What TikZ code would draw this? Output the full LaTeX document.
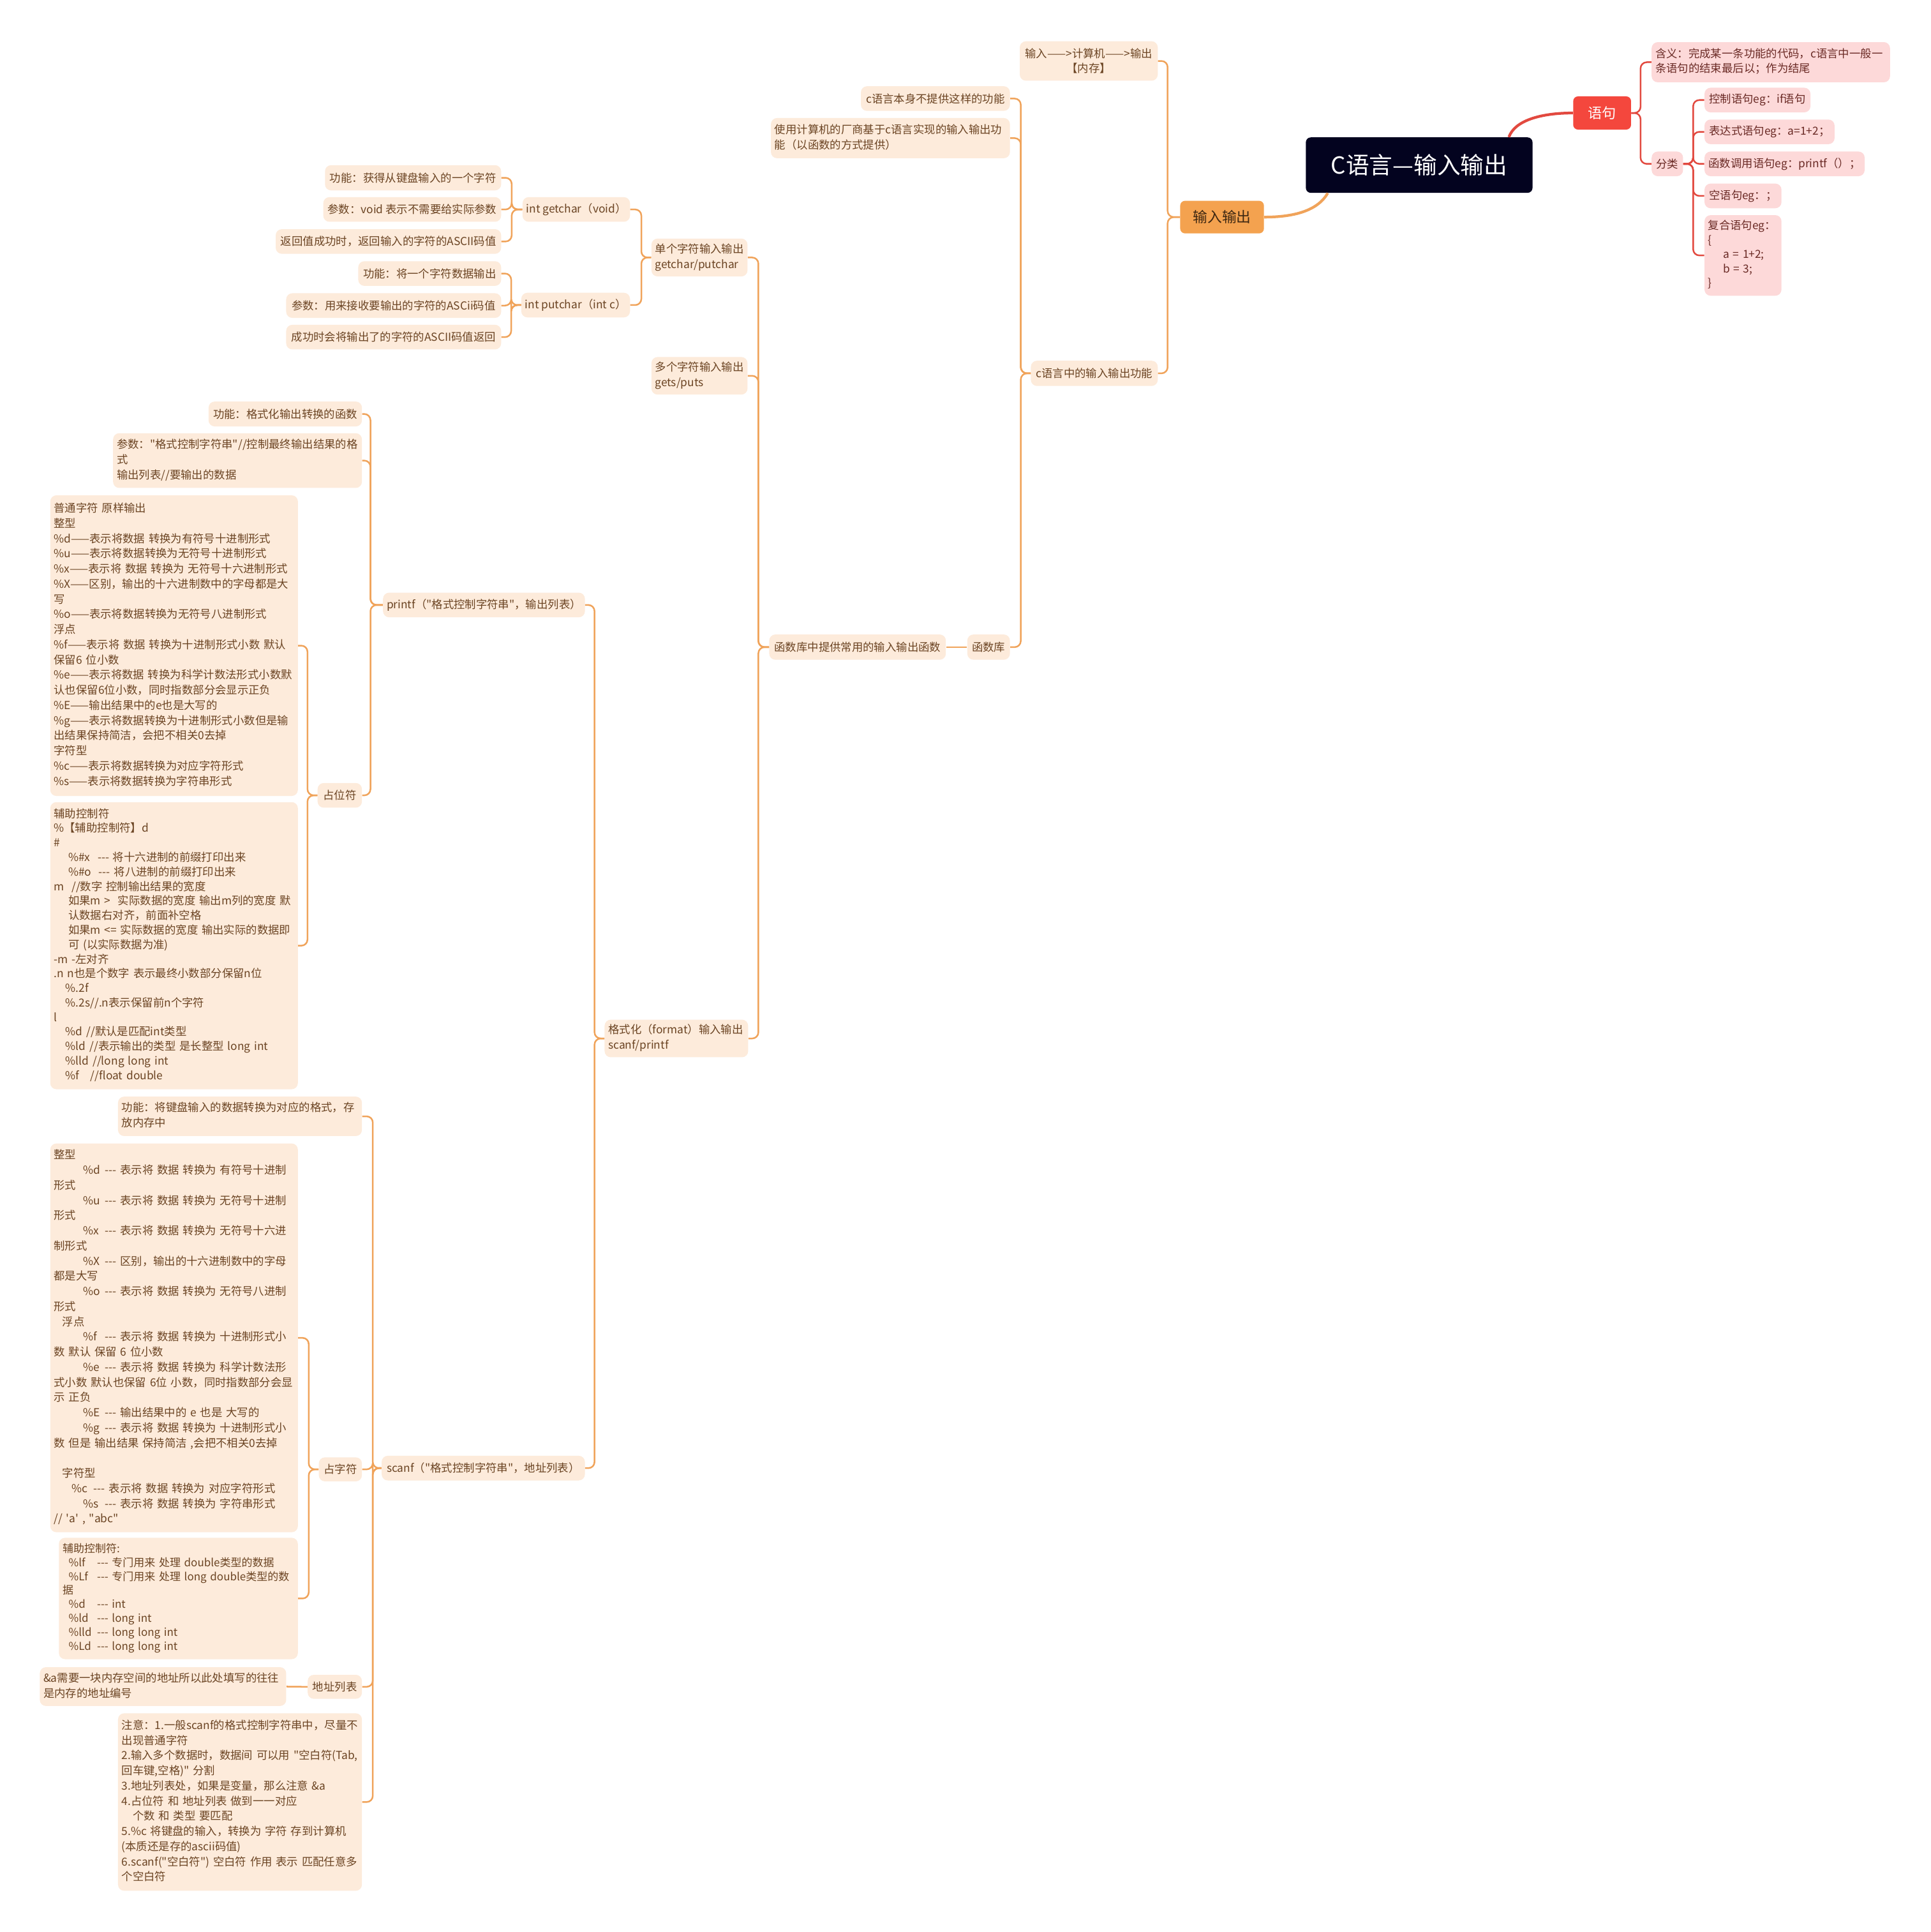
\documentclass[tikz,border=0pt]{standalone}
\usepackage{fontspec}
\usetikzlibrary{calc}
\newfontfamily\cjk{Noto Sans CJK SC}
\definecolor{peach}{HTML}{FDEBDB}
\definecolor{oline}{HTML}{F0A35A}
\definecolor{otext}{HTML}{6B4423}
\definecolor{onode}{HTML}{F4A24F}
\definecolor{iotext}{HTML}{3D2712}
\definecolor{rnode}{HTML}{F4473D}
\definecolor{rline}{HTML}{E2493F}
\definecolor{pinkc}{HTML}{FDD9D9}
\definecolor{ptext}{HTML}{6A2A25}
\definecolor{rootc}{HTML}{03031F}
\newcommand\tb[1]{\noindent\begin{tabular}{@{}l@{}}#1\end{tabular}}
\newcommand\indA{\hspace*{23.8pt}}
\newcommand\pfx[2][17.6pt]{\makebox[#1][l]{#2}}
\begin{document}
\begin{tikzpicture}[x=1pt,y=-1pt,
  leaf/.style={fill=peach, text=otext, rounded corners=5pt, inner xsep=3pt, inner ysep=1pt, font=\cjk\fontsize{9}{12.3}\selectfont},
  rleaf/.style={leaf, fill=pinkc, text=ptext, font=\cjk\fontsize{9}{11.6}\selectfont},
  ml/.style={align=left, text width=#1pt},
  sz/.style 2 args={minimum width=#1pt, minimum height=#2pt},
  oconn/.style={draw=oline, line width=1.3pt, rounded corners=5pt},
  rconn/.style={draw=rline, line width=1.3pt, rounded corners=5pt}]
\fill[white] (0,0) rectangle (1567,1568);
\useasboundingbox (0,0) rectangle (1567,1568);

% ---------- main topics ----------
\node[fill=rootc, text=white, rounded corners=4pt, sz={184}{45}, font=\cjk\fontsize{19}{22}\selectfont] (root) at (1152,134) {C语言—输入输出};
\node[fill=onode, text=iotext, rounded corners=4pt, sz={68}{26.5}, font=\cjk\fontsize{11.8}{14}\selectfont] (io) at (992,176.2) {输入输出};
\node[fill=rnode, text=white, rounded corners=4pt, sz={47}{27}, font=\cjk\fontsize{11.5}{14}\selectfont] (yuju) at (1300.5,91.7) {语句};

% ---------- red branch ----------
\node[rleaf, anchor=west, ml=187.5, sz={193.5}{32.6}] (hy) at (1340.5,50.5) {\tb{含义：完成某一条功能的代码，c语言中一般一\\条语句的结束最后以；作为结尾}};
\node[rleaf, anchor=west, sz={25.5}{20}] (fl) at (1340.5,133) {分类};
\node[rleaf, anchor=west, sz={86}{20}] (r1) at (1383.4,81.2) {控制语句eg：if语句};
\node[rleaf, anchor=west, sz={105.6}{20}] (r2) at (1383.4,107) {表达式语句eg：a=1+2；};
\node[rleaf, anchor=west, sz={130}{20}] (r3) at (1383.4,133) {函数调用语句eg：printf（）；};
\node[rleaf, anchor=west, sz={62.5}{20}] (r4) at (1383.4,159) {空语句eg：；};
\node[rleaf, anchor=west, ml=56.5, sz={62.5}{65.4}] (r5) at (1383.4,207.3) {\tb{复合语句eg：\\\{\\\hspace*{12pt}a = 1+2;\\\hspace*{12pt}b = 3;\\\}}};

% ---------- orange branch ----------
\node[leaf, anchor=east, align=center, sz={112}{32}, font=\cjk\fontsize{9}{11.9}\selectfont] (a1) at (940,49.5) {输入——>计算机——>输出\\【内存】};
\node[leaf, anchor=east, sz={103}{20.5}] (a2) at (940,303) {c语言中的输入输出功能};
\node[leaf, anchor=east, sz={121}{20}] (b1) at (820,80) {c语言本身不提供这样的功能};
\node[leaf, anchor=east, ml=188, sz={194}{32.6}] (b2) at (820,112.1) {\tb{使用计算机的厂商基于c语言实现的输入输出功\\能（以函数的方式提供）}};
\node[leaf, anchor=east, sz={34.6}{20.5}] (b3) at (820,525.2) {函数库};
\node[leaf, anchor=east, sz={143.4}{20.5}] (c1) at (768,525.2) {函数库中提供常用的输入输出函数};
\node[leaf, anchor=east, ml=72, sz={78}{30.7}] (d1) at (607,209) {\tb{单个字符输入输出\\getchar/putchar}};
\node[leaf, anchor=east, ml=72, sz={78}{30.5}] (d2) at (607,305) {\tb{多个字符输入输出\\gets/puts}};
\node[leaf, anchor=east, ml=110.5, sz={116.5}{30.5}] (d3) at (607.5,842.8) {\tb{格式化（format）输入输出\\scanf/printf}};

\node[leaf, anchor=east, sz={86}{20}] (e1) at (511.6,170) {int getchar（void）};
\node[leaf, anchor=east, sz={86.6}{20}] (e2) at (511.6,247.6) {int putchar（int c）};
\node[leaf, anchor=east, sz={143}{20.5}] (f1) at (407,144.3) {功能：获得从键盘输入的一个字符};
\node[leaf, anchor=east, sz={144.4}{20}] (f2) at (407,170) {参数：void 表示不需要给实际参数};
\node[leaf, anchor=east, sz={183}{20}] (f3) at (407,196) {返回值成功时，返回输入的字符的ASCII码值};
\node[leaf, anchor=east, sz={116}{20}] (g1) at (407,222) {功能：将一个字符数据输出};
\node[leaf, anchor=east, sz={174.5}{20}] (g2) at (407,248) {参数：用来接收要输出的字符的ASCii码值};
\node[leaf, anchor=east, sz={174.5}{20}] (g3) at (407,273.6) {成功时会将输出了的字符的ASCII码值返回};

\node[leaf, anchor=east, sz={162}{20}] (pf) at (475,491) {printf（"格式控制字符串"，输出列表）};
\node[leaf, anchor=east, sz={165}{20}] (sc) at (475,1191.5) {scanf（"格式控制字符串"，地址列表）};

\node[leaf, anchor=east, sz={124.5}{20.2}] (p1) at (294,336) {功能：格式化输出转换的函数};
\node[leaf, anchor=east, ml=196, sz={202}{44.4}] (p2) at (294,373.8) {\tb{参数："格式控制字符串"//控制最终输出结果的格\\式\\输出列表//要输出的数据}};
\node[leaf, anchor=east, sz={36}{20}] (zw) at (294,645.5) {占位符};

\node[leaf, anchor=east, ml=195, sz={201}{244}] (big1) at (242,524) {\tb{普通字符 原样输出\\整型\\
\%d——表示将数据 转换为有符号十进制形式\\
\%u——表示将数据转换为无符号十进制形式\\
\%x——表示将 数据 转换为 无符号十六进制形式\\
\%X——区别，输出的十六进制数中的字母都是大\\
写\\
\%o——表示将数据转换为无符号八进制形式\\
浮点\\
\%f——表示将 数据 转换为十进制形式小数 默认\\
保留6 位小数\\
\%e——表示将数据 转换为科学计数法形式小数默\\
认也保留6位小数，同时指数部分会显示正负\\
\%E——输出结果中的e也是大写的\\
\%g——表示将数据转换为十进制形式小数但是输\\
出结果保持简洁，会把不相关0去掉\\
字符型\\
\%c——表示将数据转换为对应字符形式\\
\%s——表示将数据转换为字符串形式}};

\node[leaf, anchor=east, ml=195, sz={201}{233}, font=\cjk\fontsize{9}{11.8}\selectfont] (aux1) at (242,767.5) {\tb{辅助控制符\\
\%【辅助控制符】d\\
\#\\
\hspace*{11.7pt}\%\#x~ --- 将十六进制的前缀打印出来\\
\hspace*{11.7pt}\%\#o~ --- 将八进制的前缀打印出来\\
m~ //数字 控制输出结果的宽度\\
\hspace*{11.7pt}如果m >~ 实际数据的宽度 输出m列的宽度 默\\
\hspace*{11.7pt}认数据右对齐，前面补空格\\
\hspace*{11.7pt}如果m <= 实际数据的宽度 输出实际的数据即\\
\hspace*{11.7pt}可 (以实际数据为准)\\
-m -左对齐\\
.n n也是个数字 表示最终小数部分保留n位\\
\hspace*{9.5pt}\%.2f\\
\hspace*{9.5pt}\%.2s//.n表示保留前n个字符\\
l\\
\hspace*{9.5pt}\%d //默认是匹配int类型\\
\hspace*{9.5pt}\%ld //表示输出的类型 是长整型 long int\\
\hspace*{9.5pt}\%lld //long long int\\
\hspace*{9.5pt}\%f~~ //float double}};

\node[leaf, anchor=east, ml=192, sz={198}{32}] (s1) at (294,906) {\tb{功能：将键盘输入的数据转换为对应的格式，存\\放内存中}};
\node[leaf, anchor=east, sz={35}{19.5}] (zz) at (294,1192.5) {占字符};
\node[leaf, anchor=east, sz={44}{19.5}] (dz) at (294,1369) {地址列表};
\node[leaf, anchor=east, ml=192, sz={198}{144}] (nt) at (294,1462.5) {\tb{注意：1.一般scanf的格式控制字符串中，尽量不\\
出现普通字符\\
2.输入多个数据时，数据间 可以用 "空白符(Tab,\\
回车键,空格)" 分割\\
3.地址列表处，如果是变量，那么注意 \&a\\
4.占位符 和 地址列表 做到一一对应\\
\hspace*{9pt}个数 和 类型 要匹配\\
5.\%c 将键盘的输入，转换为 字符 存到计算机\\
(本质还是存的ascii码值)\\
6.scanf("空白符") 空白符 作用 表示 匹配任意多\\
个空白符}};

\node[leaf, anchor=east, ml=195, sz={201}{315.5}] (big2) at (242,1085.8) {\tb{整型\\
\indA\pfx{\%d}--- 表示将 数据 转换为 有符号十进制\\
形式\\
\indA\pfx{\%u}--- 表示将 数据 转换为 无符号十进制\\
形式\\
\indA\pfx{\%x}--- 表示将 数据 转换为 无符号十六进\\
制形式\\
\indA\pfx{\%X}--- 区别，输出的十六进制数中的字母\\
都是大写\\
\indA\pfx{\%o}--- 表示将 数据 转换为 无符号八进制\\
形式\\
\hspace*{6.9pt}浮点\\
\indA\pfx{\%f}--- 表示将 数据 转换为 十进制形式小\\
数 默认 保留 6 位小数\\
\indA\pfx{\%e}--- 表示将 数据 转换为 科学计数法形\\
式小数 默认也保留 6位 小数，同时指数部分会显\\
示 正负\\
\indA\pfx{\%E}--- 输出结果中的 e 也是 大写的\\
\indA\pfx{\%g}--- 表示将 数据 转换为 十进制形式小\\
数 但是 输出结果 保持简洁 ,会把不相关0去掉\\
\mbox{}\\
\hspace*{6.9pt}字符型\\
\hspace*{14.7pt}\pfx{\%c}--- 表示将 数据 转换为 对应字符形式\\
\indA\pfx{\%s}--- 表示将 数据 转换为 字符串形式\\
// 'a' , "abc"}};

\node[leaf, anchor=east, ml=188, sz={194}{98.5}, font=\cjk\fontsize{8.8}{11.3}\selectfont] (aux2) at (242,1297.3) {\tb{辅助控制符:\\
\hspace*{5pt}\pfx[23pt]{\%lf}--- 专门用来 处理 double类型的数据\\
\hspace*{5pt}\pfx[23pt]{\%Lf}--- 专门用来 处理 long double类型的数\\
据\\
\hspace*{5pt}\pfx[23pt]{\%d}--- int\\
\hspace*{5pt}\pfx[23pt]{\%ld}--- long int\\
\hspace*{5pt}\pfx[23pt]{\%lld}--- long long int\\
\hspace*{5pt}\pfx[23pt]{\%Ld}--- long long int}};

\node[leaf, anchor=east, ml=194, sz={200}{31.5}] (addr) at (232.5,1368.8) {\tb{\&a需要一块内存空间的地址所以此处填写的往往\\是内存的地址编号}};

% ---------- connectors ----------
\draw[draw=rline, line width=2.2pt] ($(root.north west)+(165,0)$) .. controls +(5,-14) and +(-25,0) .. (yuju.west);
\draw[draw=oline, line width=2.2pt] ($(root.south west)+(18,0)$) .. controls +(-8,14) and +(25,0) .. (io.east);

\foreach \c in {hy,fl} \draw[rconn] (yuju.east) -- ++(7.5,0) |- (\c.west);
\foreach \c in {r1,r2,r3,r4,r5} \draw[rconn] (fl.east) -- ++(8,0) |- (\c.west);

\foreach \c in {a1,a2} \draw[oconn] (io.west) -- ++(-10,0) |- (\c.east);
\foreach \c in {b1,b2,b3} \draw[oconn] (a2.west) -- ++(-8,0) |- (\c.east);
\draw[oconn] (b3.west) -- (c1.east);
\foreach \c in {d1,d2,d3} \draw[oconn] (c1.west) -- ++(-8.6,0) |- (\c.east);
\foreach \c in {e1,e2} \draw[oconn] (d1.west) -- ++(-8,0) |- (\c.east);
\foreach \c in {f1,f2,f3} \draw[oconn] (e1.west) -- ++(-8.6,0) |- (\c.east);
\foreach \c in {g1,g2,g3} \draw[oconn] (e2.west) -- ++(-8,0) |- (\c.east);
\foreach \c in {pf,sc} \draw[oconn] (d3.west) -- ++(-8,0) |- (\c.east);
\foreach \c in {p1,p2,zw} \draw[oconn] (pf.west) -- ++(-10,0) |- (\c.east);
\foreach \c in {big1,aux1} \draw[oconn] (zw.west) -- ++(-8,0) |- (\c.east);
\foreach \c in {s1,zz,dz,nt} \draw[oconn] (sc.west) -- ++(-7,0) |- (\c.east);
\foreach \c in {big2,aux2} \draw[oconn] (zz.west) -- ++(-8,0) |- (\c.east);
\draw[oconn] (dz.west) -- (addr.east);
\end{tikzpicture}
\end{document}
